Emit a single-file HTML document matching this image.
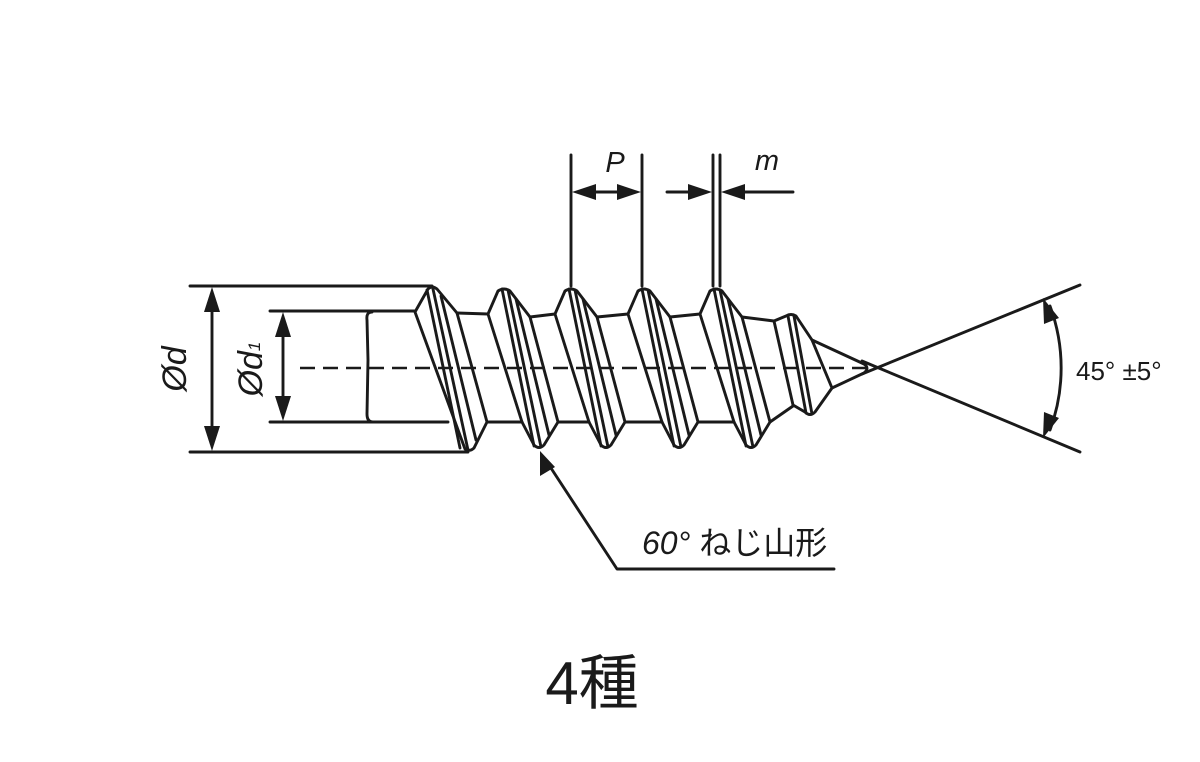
<!DOCTYPE html>
<html><head><meta charset="utf-8"><style>
html,body{margin:0;padding:0;background:#fff;}
svg{display:block;}
</style></head><body>
<svg width="1200" height="762" viewBox="0 0 1200 762" xmlns="http://www.w3.org/2000/svg">
<g fill="none" stroke="#1a1a1a" stroke-width="2.9" stroke-linejoin="round" stroke-linecap="round">
<line x1="190" y1="286" x2="432" y2="286"/>
<line x1="190" y1="452" x2="468" y2="452"/>
<line x1="270" y1="311" x2="415" y2="311"/>
<line x1="270" y1="422" x2="448" y2="422"/>
<path d="M372,312 Q366,312 367,320 L368,360 L367,414 Q367,422 373,422"/>
<path d="M415,312 L428,289 Q432,285 437,289 L457,313 L487,422 L474,448 Q470,452 465,449 Z"/>
<path d="M427,290 L460,448 M433,289 L468,450 M441,296 L476,440"/>
<path d="M488,314 L498,291 Q504,287 510,291 L530,317 L558,422 L544,445 Q539,450 534,445 L522,422 Z"/>
<path d="M502,289 L534,446 M508,290 L541,447 M516,299 L549,435"/>
<path d="M555,314 L565,291 Q571,287 577,291 L597,317 L625,422 L611,445 Q606,450 601,445 L589,422 Z"/>
<path d="M569,289 L601,446 M575,290 L608,447 M583,299 L616,435"/>
<path d="M628,314 L638,291 Q644,287 650,291 L670,317 L698,422 L684,445 Q679,450 674,445 L662,422 Z"/>
<path d="M642,289 L674,446 M648,290 L681,447 M656,299 L689,435"/>
<path d="M700,314 L710,291 Q716,287 722,291 L742,317 L770,422 L756,445 Q751,450 746,445 L734,422 Z"/>
<path d="M714,289 L746,446 M720,290 L753,447 M728,299 L761,435"/>
<path d="M457,313 L488,314 M530,317 L555,314 M597,317 L628,314 M670,317 L700,314 M742,317 L774,321"/>
<path d="M487,422 L522,422 M558,422 L589,422 M625,422 L662,422 M698,422 L734,422 M770,422 L793,406"/>
<path d="M774,321 L786,316 Q791,313 796,316 L812,340 L832,388 L815,412 Q810,417 805,412 L793,405 Z"/>
<path d="M788,316 L806,413 M794,316 L812,414"/>
<path d="M812,340 L864,364 Q870,368 864,373 L832,388"/>
<line x1="1080" y1="285" x2="862" y2="374"/>
<line x1="1080" y1="452" x2="862" y2="361"/>
<path d="M1050,306 A178,178 0 0 1 1050,430"/>
<line x1="212" y1="300" x2="212" y2="438"/>
<line x1="283" y1="325" x2="283" y2="408"/>
<line x1="571" y1="155" x2="571" y2="286"/>
<line x1="642" y1="155" x2="642" y2="286"/>
<line x1="713" y1="155" x2="713" y2="286"/>
<line x1="720" y1="155" x2="720" y2="286"/>
<line x1="585" y1="192" x2="628" y2="192"/>
<line x1="667" y1="192" x2="700" y2="192"/>
<line x1="733" y1="192" x2="793" y2="192"/>
<path d="M547,462 L617,569 L834,569"/>
</g>
<line x1="300" y1="368" x2="872" y2="368" stroke="#1a1a1a" stroke-width="2.6" stroke-dasharray="15,8"/>
<g fill="#1a1a1a">
<polygon points="212,287 204,312 220,312"/>
<polygon points="212,451 204,426 220,426"/>
<polygon points="283,312 275,337 291,337"/>
<polygon points="283,421 275,396 291,396"/>
<polygon points="572,192 596,184 596,200"/>
<polygon points="641,192 617,184 617,200"/>
<polygon points="712,192 688,184 688,200"/>
<polygon points="721,192 745,184 745,200"/>
<polygon points="1043,298 1044,324 1059,318"/>
<polygon points="1043,438 1044,412 1059,418"/>
<polygon points="540,451 540,476 555,467"/>
</g>
<g font-family="'Liberation Sans','Noto Sans CJK JP',sans-serif" fill="#1a1a1a">
<text transform="translate(186,369) rotate(-90)" text-anchor="middle" font-size="34" font-style="italic">Ød</text>
<text transform="translate(262,369) rotate(-90)" text-anchor="middle" font-size="34" font-style="italic">Ød<tspan font-size="17" dy="-2">1</tspan></text>
<text x="615" y="172" text-anchor="middle" font-size="29" font-style="italic">P</text>
<text x="767" y="170" text-anchor="middle" font-size="29" font-style="italic">m</text>
<text x="1076" y="380" font-size="26">45° ±5°</text>
<text x="642" y="554" font-size="32"><tspan font-style="italic">60°</tspan> ねじ山形</text>
<text x="592" y="704" text-anchor="middle" font-size="60">4種</text>
</g>
</svg>
</body></html>
